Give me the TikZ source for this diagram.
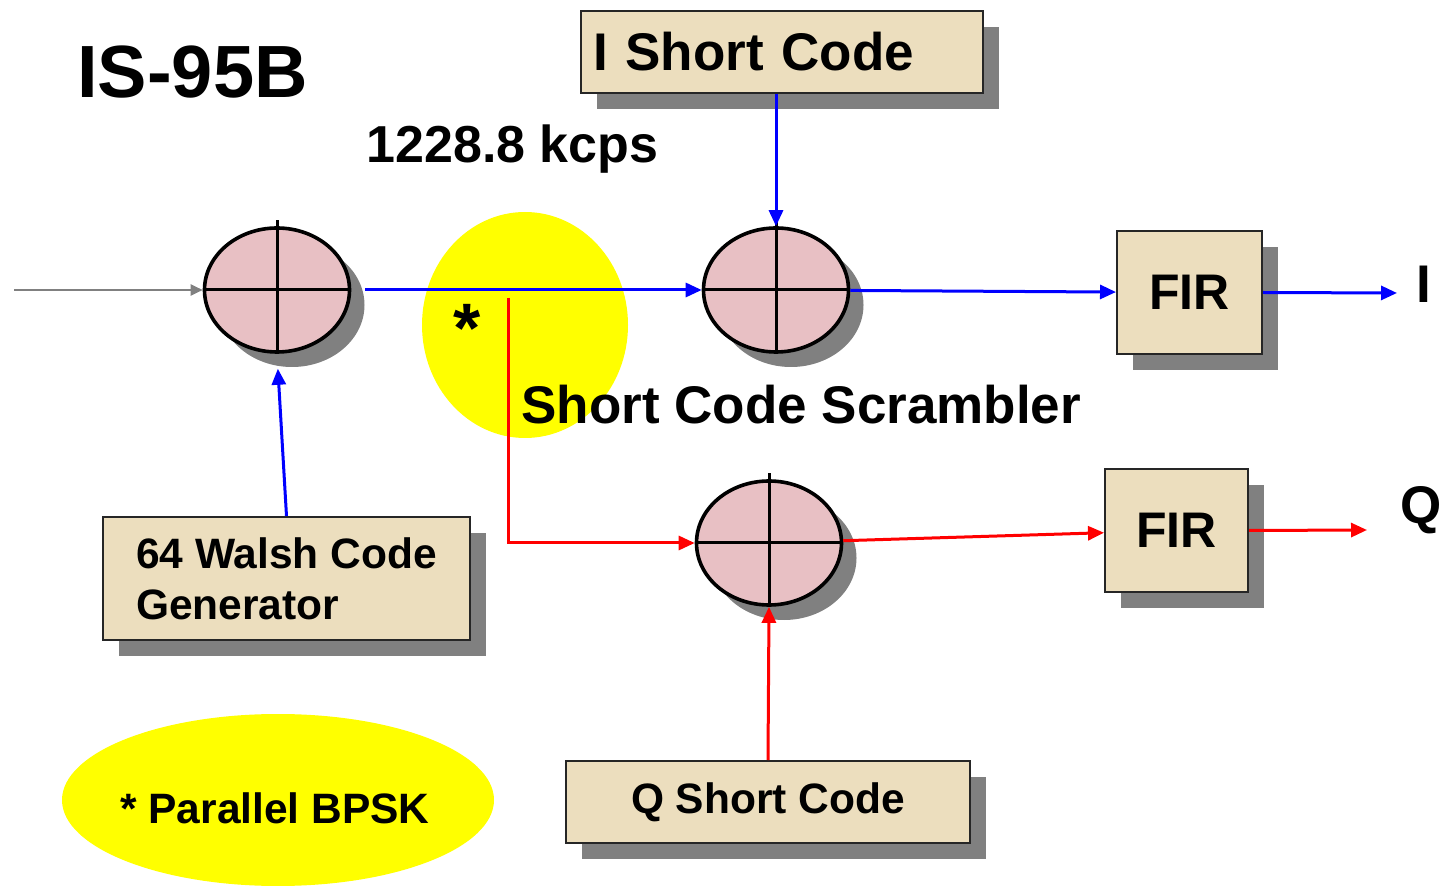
\documentclass[tikz,border=0pt]{standalone}
\usepackage{fontspec}
\setmainfont{Liberation Sans}
\usetikzlibrary{positioning, shapes.geometric, arrows.meta, shadows}
\definecolor{parchment}{RGB}{236,222,190}
\definecolor{rosy}{RGB}{232,192,196}
\definecolor{shadowgray}{RGB}{128,128,128}
\definecolor{hiyellow}{RGB}{255,255,0}
\tikzstyle{codebox} = [rectangle, draw=black!85, line width=1pt, fill=parchment, drop shadow={shadow xshift=8pt, shadow yshift=-8pt, fill=shadowgray, opacity=1}, font=\bfseries]
\tikzstyle{summer} = [ellipse, minimum width=72.5pt, minimum height=62pt, inner sep=0pt, draw=black, line width=1.8pt, fill=rosy, drop shadow={shadow xshift=7.5pt, shadow yshift=-7.5pt, fill=shadowgray, opacity=1}]
\tikzstyle{bubble} = [ellipse, fill=hiyellow, draw=none, inner sep=0pt]
\tikzstyle{plain} = [inner sep=0pt, font=\bfseries]
\tikzstyle{crossline} = [line width=1.5pt]
\tikzstyle{iarrow} = [blue, line width=1.5pt, -{Triangle[length=8pt,width=7pt]}]
\tikzstyle{qarrow} = [red, line width=1.5pt, -{Triangle[length=8pt,width=7pt]}]
\tikzstyle{inarrow} = [shadowgray, line width=1pt, -{Triangle[length=6pt,width=5.5pt]}]

\begin{document}
\begin{tikzpicture}[x=0.5pt, y=-0.5pt]
	\useasboundingbox (0,0) rectangle (1444,886);

	% yellow notes in the back
	\node (starbg) [bubble, minimum width=103pt, minimum height=113pt] at (525,325) {};
	\node (bpskbg) [bubble, minimum width=216pt, minimum height=86pt] at (278,800) {};

	% blocks
	\node (IShort) [codebox, minimum width=201pt, minimum height=41pt, inner xsep=6pt, text width=189pt, align=left, font=\fontsize{26.5}{31}\selectfont\bfseries] at (782,52) {I Short Code};
	\node (sumA) [summer] at (277,290) {};
	\node (sumB) [summer] at (776,290) {};
	\node (sumC) [summer] at (769,543) {};
	\node (FIRI) [codebox, minimum width=72.5pt, minimum height=61.5pt, font=\fontsize{25}{30}\selectfont\bfseries] at (1189.5,292.5) {FIR};
	\node (FIRQ) [codebox, minimum width=71.5pt, minimum height=61.5pt, font=\fontsize{25}{30}\selectfont\bfseries] at (1176.5,530.5) {FIR};
	\node (Walsh) [codebox, minimum width=183.5pt, minimum height=61.5pt, align=left, font=\fontsize{21.25}{25.5}\selectfont\bfseries] at (286.5,578.5) {64 Walsh Code\\Generator};
	\node (QShort) [codebox, minimum width=202pt, minimum height=41pt, font=\fontsize{21.25}{25.5}\selectfont\bfseries] at (768,802) {Q Short Code};

	\foreach \s in {sumA,sumB,sumC}
		\draw [crossline] ([yshift=3pt]\s.north) -- (\s.south) (\s.west) -- (\s.east);

	% texts
	\node (title) [plain, anchor=base west, font=\fontsize{37}{44}\selectfont\bfseries] at (77,98) {IS-95B};
	\node (rate) [plain, anchor=base west, font=\fontsize{26}{31}\selectfont\bfseries] at (366,163) {1228.8 kcps};
	\node (scrambler) [plain, anchor=base west, font=\fontsize{26.5}{31}\selectfont\bfseries] at (521,424) {Short Code Scrambler};
	\node (star) [plain, anchor=base, font=\fontsize{35}{42}\selectfont\bfseries] at (467,353) {*};
	\node (bpsk) [plain, anchor=base, font=\fontsize{21.25}{25.5}\selectfont\bfseries] at (275,823) {* Parallel BPSK};
	\node (Ilabel) [plain, anchor=base west, font=\fontsize{26.5}{31}\selectfont\bfseries] at (1416,303) {I};
	\node (Qlabel) [plain, anchor=base west, font=\fontsize{26.5}{31}\selectfont\bfseries] at (1400,524) {Q};

	\coordinate (input) at (14,290);
	\coordinate (split) at (508,298);
	\coordinate (Iend) at (1397,293);
	\coordinate (Qend) at (1367,530);

	% connectors
	\draw [inarrow] (input) -- (sumA.west);
	\draw [iarrow, shorten <=7pt] (sumA) -- (sumB);
	\draw [iarrow] (IShort.south -| sumB.north) -- (sumB.north);
	\draw [iarrow, shorten >=7.5pt] (Walsh.north) -- (sumA.south);
	\draw [iarrow] (sumB) -- (FIRI);
	\draw [iarrow] (FIRI.east) -- (Iend);
	\draw [qarrow] (split) |- (sumC.west);
	\draw [qarrow] (QShort.north) -- (sumC.south);
	\draw [qarrow] (sumC) -- (FIRQ);
	\draw [qarrow] (FIRQ.east) -- (Qend);

\end{tikzpicture}
\end{document}
